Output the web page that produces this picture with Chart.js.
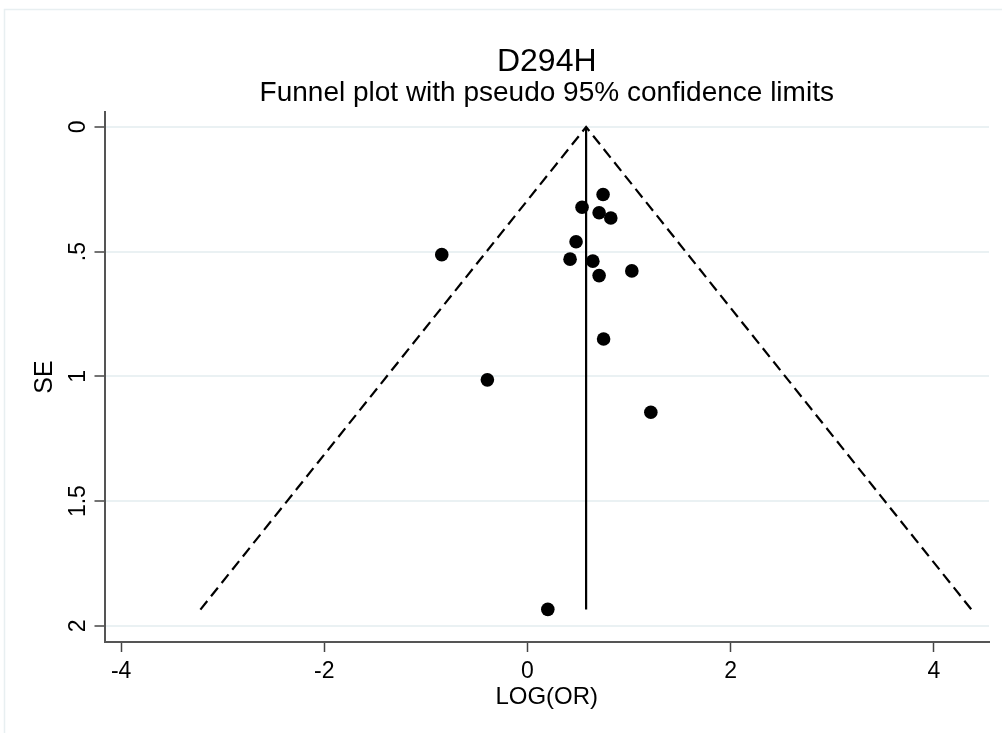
<!DOCTYPE html>
<html>
<head>
<meta charset="utf-8">
<script src="https://cdn.jsdelivr.net/npm/chart.js@4.4.1/dist/chart.umd.min.js"></script>
<style>
  html, body { margin: 0; padding: 0; background: #fff; }
  #wrap { width: 1002px; height: 733px; }
</style>
</head>
<body>
<div id="wrap"><canvas id="funnel" width="1002" height="733"></canvas></div>
<script>
// study estimates
var studyLogOR = [0.744, 0.537, 0.705, 0.820, 0.478, -0.844, 0.419, 0.643, 1.027, 0.705, 0.749, -0.395, 1.214, 0.200];
var studySE    = [0.271, 0.322, 0.344, 0.365, 0.460, 0.512, 0.530, 0.538, 0.577, 0.596, 0.850, 1.014, 1.144, 1.934];

// pooled estimate line and pseudo 95% limits
var pooledX = [0.577, 0.577];
var pooledY = [0, 1.935];
var limitX  = [-3.22, 0.577, 4.37];
var limitY  = [1.935, 0, 1.935];

var xTicks = [-4, -2, 0, 2, 4];
var xTickLabels = ['-4', '-2', '0', '2', '4'];
var yTicks = [0, 0.5, 1, 1.5, 2];
var yTickLabels = ['0', '.5', '1', '1.5', '2'];

var chartTitle = 'D294H';
var chartSubtitle = 'Funnel plot with pseudo 95% confidence limits';
var xTitle = 'LOG(OR)';
var yTitle = 'SE';

var fontFamily = "'Liberation Sans', Arial, Helvetica, sans-serif";

function toPoints(xs, ys) {
  return xs.map(function(x, i) { return { x: x, y: ys[i] }; });
}

var frame = {
  id: 'frame',
  beforeDraw: function(chart) {
    var ctx = chart.ctx;
    ctx.save();
    ctx.fillStyle = '#fff';
    ctx.fillRect(0, 0, chart.width, chart.height);
    ctx.strokeStyle = '#e8eff1';
    ctx.lineWidth = 1.5;
    ctx.beginPath();
    ctx.moveTo(4.5, chart.height);
    ctx.lineTo(4.5, 9.5);
    ctx.lineTo(chart.width, 9.5);
    ctx.stroke();
    ctx.restore();
  },
  afterDraw: function(chart) {
    var ctx = chart.ctx;
    var ca = chart.chartArea;
    var cx = (ca.left + ca.right) / 2;
    ctx.save();
    ctx.fillStyle = '#000';
    ctx.textAlign = 'center';
    ctx.textBaseline = 'middle';
    ctx.font = '32px ' + fontFamily;
    ctx.fillText(chartTitle, cx, 62);
    ctx.font = '28px ' + fontFamily;
    ctx.fillText(chartSubtitle, cx, 93);
    ctx.restore();
  }
};

var ctx = document.getElementById('funnel').getContext('2d');
var chart = new Chart(ctx, {
  type: 'scatter',
  data: {
    datasets: [
      {
        label: 'studies',
        data: toPoints(studyLogOR, studySE),
        backgroundColor: '#000',
        borderWidth: 0,
        pointRadius: 6.8,
        pointHoverRadius: 6.8,
        order: 0
      },
      {
        label: 'pooled',
        data: toPoints(pooledX, pooledY),
        showLine: true,
        borderColor: '#000',
        borderWidth: 2.2,
        pointRadius: 0,
        order: 1
      },
      {
        label: 'limits',
        data: toPoints(limitX, limitY),
        showLine: true,
        borderColor: '#000',
        borderWidth: 2.2,
        borderDash: [11, 6],
        pointRadius: 0,
        order: 2
      }
    ]
  },
  options: {
    responsive: false,
    animation: false,
    devicePixelRatio: 1,
    layout: { padding: { left: 0, right: 13, top: 112, bottom: 0 } },
    plugins: {
      legend: { display: false },
      tooltip: { enabled: false },
      title: { display: false }
    },
    scales: {
      x: {
        type: 'linear',
        position: 'bottom',
        min: -4.164,
        max: 4.543,
        afterBuildTicks: function(s) {
          s.ticks = xTicks.map(function(v) { return { value: v }; });
        },
        afterFit: function(s) { s.height = 91; },
        ticks: {
          autoSkip: false,
          maxRotation: 0,
          padding: 6,
          color: '#000',
          font: { family: fontFamily, size: 23 },
          callback: function(v) { return xTickLabels[xTicks.indexOf(v)]; }
        },
        grid: {
          drawOnChartArea: false,
          drawTicks: true,
          tickLength: 10,
          tickColor: '#444',
          tickWidth: 1.5
        },
        border: { display: true, color: '#555', width: 2 },
        title: {
          display: true,
          text: xTitle,
          color: '#000',
          font: { family: fontFamily, size: 24 },
          padding: { top: 0, bottom: 21 }
        }
      },
      y: {
        type: 'linear',
        position: 'left',
        reverse: true,
        min: -0.06,
        max: 2.065,
        afterBuildTicks: function(s) {
          s.ticks = yTicks.map(function(v) { return { value: v }; });
        },
        afterFit: function(s) { s.width = 104.5; },
        ticks: {
          autoSkip: false,
          minRotation: 90,
          maxRotation: 90,
          crossAlign: 'center',
          padding: 0,
          color: '#000',
          font: { family: fontFamily, size: 23 },
          callback: function(v) { return yTickLabels[yTicks.indexOf(v)]; }
        },
        grid: {
          color: '#eaf1f3',
          lineWidth: 2,
          drawTicks: true,
          tickLength: 10,
          tickColor: '#444',
          tickWidth: 1.5
        },
        border: { display: true, color: '#555', width: 2 },
        title: {
          display: true,
          text: yTitle,
          color: '#000',
          font: { family: fontFamily, size: 25 },
          padding: { top: 30, bottom: 0 }
        }
      }
    }
  },
  plugins: [frame]
});
</script>
</body>
</html>
